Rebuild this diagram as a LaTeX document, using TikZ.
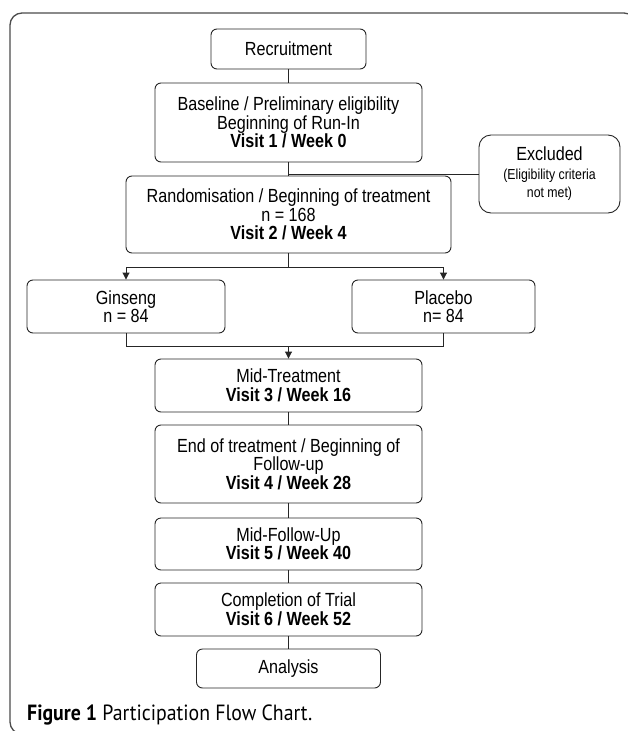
\documentclass[tikz,border=0pt]{standalone}
\usepackage{fontspec}
\setmainfont{Liberation Sans}[FakeStretch=0.85]
\newfontfamily\captionfont{PT Sans}[FakeStretch=0.9]
\usetikzlibrary{arrows.meta,positioning}
\tikzset{
    flow-box/.style = {draw=black!85, line width=0.9pt, rectangle, rounded corners=6pt, align=center, inner sep=0pt, font=\fontsize{19}{18.5}\selectfont},
    side-box/.style = {flow-box, rounded corners=12pt},
    flow-line/.style = {draw=black!85, line width=0.9pt},
    flow-arrow/.style = {flow-line, -{Triangle[length=7pt,width=7pt]}},
    frame-line/.style = {draw=black!70, line width=1.3pt, rounded corners=12pt},
}

\begin{document}
\begin{tikzpicture}[x=1pt, y=-1pt]
\useasboundingbox (0,0) rectangle (628,731);
\draw[frame-line] (10,13) rectangle (636,734);

\node[flow-box, minimum width=155pt, minimum height=40pt] (recruit) at (288.5,49) {Recruitment};
\node[flow-box, minimum width=267pt, minimum height=79pt] (baseline) at (288.5,122.5) {Baseline / Preliminary eligibility\\ Beginning of Run-In\\ \textbf{Visit 1 / Week 0}};
\node[side-box, minimum width=141pt, minimum height=78pt] (excluded) at (549.5,174) {Excluded\\ {\fontsize{14.5}{17}\selectfont (Eligibility criteria}\\ {\fontsize{14.5}{17}\selectfont not met)}};
\node[flow-box, minimum width=325pt, minimum height=77pt] (random) at (288.5,214.5) {Randomisation / Beginning of treatment\\ n = 168\\ \textbf{Visit 2 / Week 4}};
\node[flow-box, minimum width=198pt, minimum height=53pt] (ginseng) at (126,306.5) {Ginseng\\ n = 84};
\node[flow-box, minimum width=183pt, minimum height=53pt] (placebo) at (443.5,306.5) {Placebo\\ n= 84};
\node[flow-box, minimum width=267pt, minimum height=53pt] (midtreat) at (288.5,385.5) {Mid-Treatment\\ \textbf{Visit 3 / Week 16}};
\node[flow-box, minimum width=267pt, minimum height=78pt] (endtreat) at (288.5,464) {End of treatment / Beginning of\\ Follow-up\\ \textbf{Visit 4 / Week 28}};
\node[flow-box, minimum width=267pt, minimum height=52pt] (midfollow) at (288.5,544) {Mid-Follow-Up\\ \textbf{Visit 5 / Week 40}};
\node[flow-box, minimum width=267pt, minimum height=53pt] (complete) at (288.5,609.5) {Completion of Trial\\ \textbf{Visit 6 / Week 52}};
\node[flow-box, minimum width=184pt, minimum height=39pt] (analysis) at (288.5,668.5) {Analysis};
\node[anchor=west, inner sep=0pt, font=\captionfont\fontsize{22}{22}\selectfont] (caption) at (27,715) {\textbf{Figure 1} Participation Flow Chart.};

\coordinate (split) at (288.5,267);
\coordinate (merge) at (288.5,346);

\draw[flow-line] (recruit) -- (baseline);
\draw[flow-line] (baseline) -- (random);
\draw[flow-line] (excluded.west) -- (excluded.west -| random.north);
\draw[flow-line] (random.south) -- (split);
\draw[flow-arrow] (split) -| (ginseng.north);
\draw[flow-arrow] (split) -| (placebo.north);
\draw[flow-line] (ginseng.south) |- (merge);
\draw[flow-line] (placebo.south) |- (merge);
\draw[flow-arrow] (merge) -- (midtreat.north);
\draw[flow-line] (midtreat) -- (endtreat);
\draw[flow-line] (endtreat) -- (midfollow);
\draw[flow-line] (midfollow) -- (complete);
\draw[flow-line] (complete) -- (analysis);
\end{tikzpicture}
\end{document}
